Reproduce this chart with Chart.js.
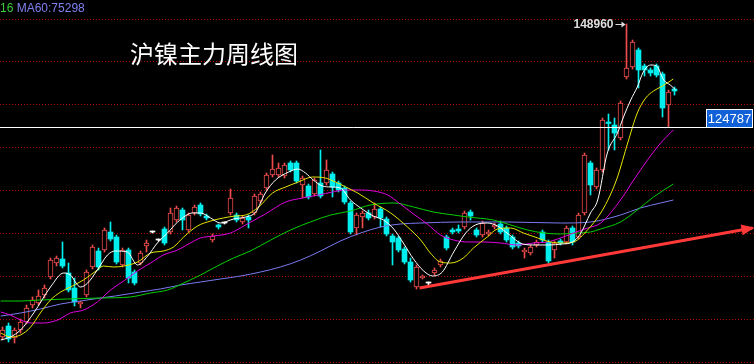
<!DOCTYPE html>
<html>
<head>
<meta charset="utf-8">
<script src="https://cdn.jsdelivr.net/npm/chart.js@4.4.1/dist/chart.umd.min.js"></script>
<style>
html,body{margin:0;padding:0;background:#000;}
#wrap{position:relative;width:754px;height:364px;}
</style>
</head>
<body>
<div id="wrap"><canvas id="c"></canvas></div>
<script>
// Weekly OHLC of the nickel main contract, oldest first
const opens = [76160,78720,75930,77790,79650,83600,84070,85930,90120,93370,94300,91050,87560,83840,85930,92440,96160,96400,100580,99420,92910,96400,91280,93370,97330,100580,98720,101280,100580,103370,105700,101050,105000,106860,104300,98720,102210,102670,105000,104530,102910,104070,105000,107790,110810,113840,113840,113600,116630,116630,111510,111280,109420,111980,111980,114070,111980,110810,107330,101510,104070,105000,104070,105930,103600,99650,99190,96630,93600,87790,89880,88720,91050,92910,99420,101050,101280,101740,105230,101050,99880,100120,101740,102440,101510,99420,98020,95930,95700,97560,100580,98260,96400,98490,98260,101510,99420,105000,116630,111050,115000,126160,125470,122440,136630,138950,142910,139190,138260,139190,137330,130120,133840];
const highs = [78490,79420,78260,80350,83600,85470,87090,88260,94530,95000,98260,93370,89880,84530,91740,97560,96860,101510,102910,99880,96860,96860,91740,96160,98720,100810,98950,101740,106160,106630,106160,105000,106860,107330,104770,100120,102440,102910,110580,105000,104300,104530,109420,109880,114300,118490,116630,116630,117090,117090,113600,111740,113140,119650,117330,114530,112440,111280,107790,105000,105470,105700,107330,106400,104070,100120,99650,97090,94530,92910,90580,88950,92210,94300,99880,101510,102210,105470,105700,101510,103140,101050,102670,103140,101980,99880,98490,96860,97560,98720,101050,98720,98490,98950,101980,101980,105000,118950,117090,115470,127090,128020,127090,131050,148960,145230,143370,139650,138720,139650,137790,133610,134300];
const lows = [75470,75000,74770,77090,79190,82910,83600,85230,89650,92670,92210,86630,83370,82910,85470,91980,91740,95930,98490,93140,92440,88720,88260,92910,95930,100350,98490,97560,100120,102910,101050,100580,104530,104300,103370,98260,101280,102440,104530,102910,102440,101510,104530,107330,110350,113370,113370,113140,114530,111980,108490,108260,108950,108490,111510,108720,109880,107090,100120,99880,101510,103370,103600,101740,99650,92910,95930,93140,88950,87330,89650,88260,90580,92440,96400,100120,100350,101280,103370,99420,99420,99650,101280,100120,98260,96630,96860,94530,95230,97090,98260,93370,94530,97560,97790,97560,98950,104530,109190,110580,114530,119650,119650,121980,136160,138490,134070,136860,136860,136630,127330,125000,132440];
const closes = [77790,75700,77790,79650,82910,84770,85700,87560,94070,94530,92670,87090,84300,84300,91280,97090,92440,101050,98950,93600,96400,89880,88720,95700,98020,100580,98720,98020,105000,106160,103370,104530,106400,104770,103840,99650,101740,102670,108490,103370,103840,103370,108950,109420,113840,115230,115470,116160,115000,112440,113140,108720,112670,108950,115000,111050,110350,107560,100580,104530,105000,103840,105930,103840,100120,98260,96400,93600,89420,92440,90350,88720,91740,93840,96860,100580,100810,105000,104300,99880,102670,100580,102210,100580,98720,97090,97330,96400,97090,98260,98720,93840,98020,98020,101510,98260,104530,118490,111510,115000,126630,125810,123600,130580,138720,144770,138260,138260,137560,137090,129420,133140,133370];

// Moving averages as [week index, price]
const ma5 = [[-0.3,75470],[1.3,76160],[3,77790],[5.2,81740],[8,87790],[10.2,91050],[11.3,90580],[13,87790],[14.2,88720],[15.8,91740],[17.5,95230],[18.8,96160],[20.8,95930],[22.5,92910],[24.2,95000],[25.8,98020],[27.5,100350],[29.2,102910],[31.7,105000],[33,105000],[34.7,103840],[36.3,102670],[38.5,103600],[40.5,104070],[42.2,105230],[43.8,109650],[45.5,112670],[47.7,114530],[49.2,115230],[50.5,114300],[51.8,112670],[53.3,111280],[54.7,111050],[56.3,110810],[58,108020],[59.7,106160],[61.8,104300],[63.5,103370],[65.2,101280],[66.8,98020],[68.5,94300],[70.2,91510],[71.7,90350],[73.3,91280],[75.2,95930],[77.2,100350],[78.8,102210],[80.8,102670],[82.5,101980],[84.3,100120],[86.7,97790],[88.8,97560],[91,97560],[93.3,97790],[95,98260],[96.3,100120],[98,105000],[99.2,108020],[100.8,118950],[102.5,123600],[103.5,127330],[104.7,131280],[105.8,134300],[106.8,137790],[108,139420],[109,139190],[110.2,135930],[111.3,134770],[112.2,133600]];
const ma10 = [[-0.3,77090],[1.3,76160],[3,76630],[4.7,78490],[6.3,81740],[8,84770],[9.7,86630],[11.3,87790],[13.5,89420],[15.8,91740],[16.8,92670],[18.5,92440],[20.2,92670],[22.5,93600],[24.7,95700],[26.8,96160],[28.5,97090],[30.2,99420],[32.5,101980],[34.7,103140],[36.8,103840],[38.8,104300],[40.5,104530],[42.7,106400],[45,109650],[47.2,111050],[49.3,112210],[51.7,113370],[53.8,113140],[55.5,112210],[57.2,111050],[59.2,109650],[61.8,107330],[64.7,105000],[67.5,101740],[69.7,98720],[71.3,95700],[73,93600],[74.7,93370],[76.8,94530],[78.5,96860],[80.8,99420],[82.5,101280],[84.7,101510],[86.8,100350],[89.2,99190],[91.3,98260],[93.5,98020],[95.2,98260],[97.5,101050],[99.7,105000],[101.3,109190],[102.5,113370],[104.2,121280],[105.8,128260],[107.2,131740],[108.5,133370],[109.7,134300],[110.8,135230],[111.8,136160]];
const ma20 = [[-0.3,81970],[1.3,81280],[3,80120],[4.7,79420],[6.8,79420],[9.2,80120],[11.3,81740],[13.5,82440],[15.8,84300],[18,87090],[20.2,89190],[22.5,91510],[24.7,93370],[26.8,95230],[29.2,96400],[31.3,98020],[33,99190],[35.2,99650],[38,100350],[40.5,102210],[43.8,104770],[47.2,107560],[50,108490],[52.7,109190],[55,109880],[57.2,110350],[59.2,110350],[61.8,110120],[64.2,109190],[66.3,107090],[68.5,104770],[70.8,102440],[73,99880],[75.2,98720],[77.5,98260],[80.2,98260],[83,98020],[85.8,97560],[88.5,98020],[90.8,98260],[93,99190],[95.2,100350],[97.5,101510],[99.7,102670],[103,108020],[105.2,112670],[107.5,117330],[109.7,121280],[111.8,124300]];
const ma40 = [[-0.3,84530],[3,84530],[6.3,84770],[10.8,85000],[16.3,85230],[21.3,85470],[24.7,86400],[27.5,87090],[30.2,88720],[33,90580],[35.8,92670],[38.5,94530],[41.3,96160],[44.7,98720],[48,101050],[51.3,102910],[54.7,104530],[58,105470],[61.3,106860],[65.2,107330],[68.5,106400],[71.8,105230],[75.2,104530],[77.5,104070],[81.8,103370],[84.7,102210],[87.5,101050],[90.2,100350],[93,100120],[95.8,100350],[98,100580],[99.7,101280],[103,102910],[105.8,105700],[108.5,108720],[111.8,111740]];
const ma60 = [[-0.3,81040],[3,81740],[6.3,82670],[9.7,83840],[13,84530],[16.3,85230],[18.8,85700],[23,86630],[26.3,87330],[29.7,88260],[33,88950],[36.3,89650],[39.7,90350],[43,91280],[46.3,92440],[49.7,94070],[53,96160],[56.3,98490],[59.7,100350],[63,101740],[66.3,102440],[69.7,102670],[76.3,102910],[84.2,102910],[93,102670],[98,102910],[103,104530],[106.3,106160],[109.7,107330],[111.8,108020]];

// Support level and rising trend line
const levelPrice = 124787;
const trendLine = [[69.5, 87560], [125, 101510]];

// Spacing of the dotted price guides
const gridStep = 10000;

const titleText = '沪镍主力周线图';
const legendParts = [['16', '#3ccc3c'], [' MA60:75298', '#8080f0']];

const UP = '#ee4c4c', DOWN = '#00eeee', FLAT = '#ffffff';
const idx = opens.map((_, i) => i);
const colorOf = i => closes[i] > opens[i] ? UP : (closes[i] < opens[i] ? DOWN : FLAT);

const bodies = idx.map(i => ({x: i, y: [opens[i], closes[i]]}));
const upperWicks = idx.filter(i => highs[i] > Math.max(opens[i], closes[i]))
  .map(i => ({x: i, y: [Math.max(opens[i], closes[i]), highs[i]]}));
const lowerWicks = idx.filter(i => lows[i] < Math.min(opens[i], closes[i]))
  .map(i => ({x: i, y: [lows[i], Math.min(opens[i], closes[i])]}));

const toXY = arr => arr.map(([x, y]) => ({x, y}));
const maLine = (data, color) => ({
  type: 'line', data: toXY(data), borderColor: color, borderWidth: 1,
  pointRadius: 0, cubicInterpolationMode: 'monotone', order: 0
});

// dotted horizontal guides at every round price level inside the y range
const guides = {
  id: 'guides',
  beforeDatasetsDraw(chart) {
    const {ctx, scales: {y}, chartArea} = chart;
    ctx.save();
    ctx.strokeStyle = '#b40000';
    ctx.lineWidth = 1;
    ctx.setLineDash([1, 2]);
    for (let v = Math.ceil(y.min / gridStep) * gridStep; v <= y.max; v += gridStep) {
      const py = Math.round(y.getPixelForValue(v)) - 0.5;
      ctx.beginPath();
      ctx.moveTo(chartArea.left, py);
      ctx.lineTo(chartArea.right, py);
      ctx.stroke();
    }
    ctx.restore();
  }
};

const overlay = {
  id: 'overlay',
  afterDatasetsDraw(chart) {
    const {ctx, scales: {x, y}, chartArea} = chart;
    ctx.save();

    // chart title
    ctx.fillStyle = '#ffffff';
    ctx.font = '24px "Noto Sans CJK SC"';
    ctx.textBaseline = 'middle';
    ctx.textAlign = 'left';
    ctx.fillText(titleText, 130, 54);

    // indicator readout
    ctx.font = '12px "Liberation Sans"';
    let lx = 0;
    for (const [t, col] of legendParts) {
      ctx.fillStyle = col;
      ctx.fillText(t, lx, 9);
      lx += ctx.measureText(t).width;
    }

    // highest high marker
    let k = 0;
    highs.forEach((h, i) => { if (h > highs[k]) k = i; });
    const px = Math.round(x.getPixelForValue(k)) + 0.5;
    const py = Math.round(y.getPixelForValue(highs[k])) + 0.5;
    ctx.fillStyle = '#dedede';
    ctx.strokeStyle = '#dedede';
    ctx.lineWidth = 1;
    ctx.font = 'bold 12px "Liberation Sans"';
    ctx.textAlign = 'right';
    ctx.fillText(String(highs[k]), px - 14, py + 0.5);
    ctx.beginPath(); ctx.moveTo(px - 12, py); ctx.lineTo(px - 3, py); ctx.stroke();
    ctx.beginPath(); ctx.moveTo(px - 2, py); ctx.lineTo(px - 6, py - 3); ctx.lineTo(px - 6, py + 3); ctx.closePath(); ctx.fill();

    // support level line with price tag
    const ly = Math.round(y.getPixelForValue(levelPrice)) - 0.5;
    const boxW = 46, boxH = 18;
    const bx = chartArea.right - boxW - 1.5;
    ctx.strokeStyle = '#ffffff';
    ctx.beginPath(); ctx.moveTo(chartArea.left, ly); ctx.lineTo(bx, ly); ctx.stroke();
    ctx.fillStyle = '#1060d8';
    ctx.fillRect(bx, ly - boxH, boxW, boxH);
    ctx.strokeRect(bx, ly - boxH, boxW, boxH);
    ctx.fillStyle = '#ffffff';
    ctx.font = '13px "Liberation Sans"';
    ctx.textAlign = 'center';
    ctx.fillText(String(levelPrice), bx + boxW / 2, ly - boxH / 2 + 0.5);

    // arrow head on the trend line
    const meta = chart.getDatasetMeta(chart.data.datasets.findIndex(d => d.label === 'trend'));
    const [p0, p1] = meta.data;
    const ang = Math.atan2(p1.y - p0.y, p1.x - p0.x);
    ctx.fillStyle = '#ff3838';
    ctx.translate(p1.x, p1.y);
    ctx.rotate(ang);
    ctx.beginPath(); ctx.moveTo(2, 0); ctx.lineTo(-11, -5.5); ctx.lineTo(-11, 5.5); ctx.closePath(); ctx.fill();
    ctx.restore();
  }
};

new Chart(document.getElementById('c'), {
  type: 'bar',
  data: {
    datasets: [
      maLine(ma5, '#ffffff'),
      maLine(ma10, '#e6e600'),
      maLine(ma20, '#e000e0'),
      maLine(ma40, '#00d000'),
      maLine(ma60, '#7a7af2'),
      {
        type: 'line', label: 'trend', data: toXY(trendLine), borderColor: '#ff3838',
        borderWidth: 3, pointRadius: 0, order: 0
      },
      {
        label: 'body', data: bodies, grouped: false, barThickness: 5, minBarLength: 1,
        borderSkipped: false, order: 1,
        backgroundColor: c => { const col = colorOf(c.raw.x); return col === UP ? '#000000' : col; },
        borderColor: c => colorOf(c.raw.x),
        borderWidth: c => colorOf(c.raw.x) === UP ? 1 : 0
      },
      {
        label: 'upper', data: upperWicks, grouped: false, barThickness: 1, order: 2,
        backgroundColor: c => colorOf(c.raw.x)
      },
      {
        label: 'lower', data: lowerWicks, grouped: false, barThickness: 1, order: 2,
        backgroundColor: c => colorOf(c.raw.x)
      }
    ]
  },
  options: {
    responsive: true,
    maintainAspectRatio: false,
    animation: false,
    events: [],
    layout: {padding: 0},
    plugins: {legend: {display: false}, tooltip: {enabled: false}},
    scales: {
      x: {type: 'linear', min: -2.5 / 6, max: -2.5 / 6 + 754 / 6, offset: false, display: false},
      y: {
        min: 69883, max: 154535,
        ticks: {display: false},
        grid: {display: false, drawTicks: false},
        border: {display: false}
      }
    }
  },
  plugins: [guides, overlay]
});
</script>
</body>
</html>
